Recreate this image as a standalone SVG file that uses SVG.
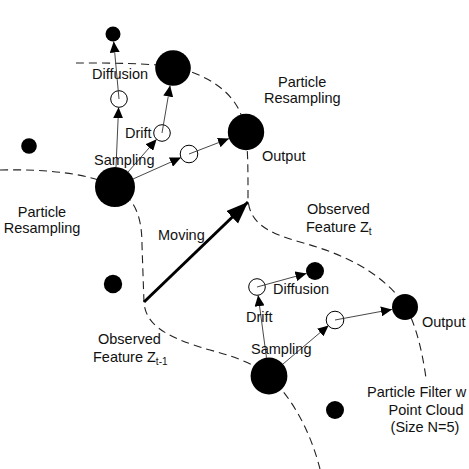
<svg xmlns="http://www.w3.org/2000/svg" width="469" height="469" viewBox="0 0 469 469">
<style>
.bg{fill:#fff}
.dash{fill:none;stroke:#222;stroke-width:1.1;stroke-dasharray:8 5}
.big{fill:#000}
.dot{fill:#000}
.open{fill:#fff;stroke:#000;stroke-width:1}
.arr{fill:none;stroke:#333;stroke-width:0.9;marker-end:url(#ah)}
.move{fill:none;stroke:#000;stroke-width:3;marker-end:url(#bh)}
text{font-family:"Liberation Sans",Arial,sans-serif;font-size:14.5px;fill:#111}
.sub{font-size:10px}
</style>
<defs>
<marker id="ah" markerUnits="userSpaceOnUse" markerWidth="12" markerHeight="10" refX="11" refY="5" orient="auto">
<path d="M0,0 L11,5 L0,10 Z" fill="#000"/>
</marker>
<marker id="bh" markerUnits="userSpaceOnUse" markerWidth="24" markerHeight="18" refX="22" refY="8.5" orient="auto">
<path d="M0,0 L22,8.5 L0,17 Z" fill="#000"/>
</marker>
</defs>
<rect class="bg" x="0" y="0" width="469" height="469"/>

<g id="boundaries">
<path class="dash" d="M76,63 C110,63 150,63 172,67 C205,73 238,92 244,125 C248,145 248,160 248,200 C250,222 265,232 300,242 C340,253 380,270 405,305 C416,325 422,350 426,378"/>
<path class="dash" d="M0,170 C45,169 90,173 115,187 C134,198 142,215 142,245 L144,303 C146,322 160,336 210,350 C240,358 258,366 269,376 C292,398 310,430 320,469"/>
</g>

<g id="n-diff-top"><circle class="dot" cx="113" cy="34" r="7.5"/></g>
<g id="n-resample-top"><circle class="big" cx="173" cy="68" r="17.8"/></g>
<g id="n-open-a"><circle class="open" cx="119" cy="99" r="8.3"/></g>
<g id="n-open-b"><circle class="open" cx="162" cy="133" r="8.3"/></g>
<g id="n-open-d"><circle class="open" cx="189" cy="154" r="8.8"/></g>
<g id="n-sampling-top"><circle class="big" cx="115" cy="187" r="20"/></g>
<g id="n-output-top"><circle class="big" cx="246" cy="132" r="18.2"/></g>
<g id="n-left-dot"><circle class="dot" cx="29" cy="146" r="7.8"/></g>
<g id="n-left-dot2"><circle class="dot" cx="113" cy="284" r="9.2"/></g>
<g id="n-open-e"><circle class="open" cx="257" cy="287" r="8.3"/></g>
<g id="n-diff-bottom"><circle class="dot" cx="315" cy="271" r="9"/></g>
<g id="n-open-g"><circle class="open" cx="335" cy="320" r="8.8"/></g>
<g id="n-output-bottom"><circle class="big" cx="405" cy="307" r="13"/></g>
<g id="n-sampling-bottom"><circle class="big" cx="269" cy="376" r="18.4"/></g>
<g id="n-bottom-dot"><circle class="dot" cx="335" cy="410" r="9"/></g>

<g id="connectors">
<line class="arr" x1="116" y1="167" x2="118.6" y2="107.3"/>
<line class="arr" x1="119" y1="99" x2="113.7" y2="41.5"/>
<line class="arr" x1="128" y1="172" x2="156.6" y2="139.3"/>
<line class="arr" x1="162" y1="133" x2="170.1" y2="85.6"/>
<line class="arr" x1="133" y1="179" x2="181" y2="157.6"/>
<line class="arr" x1="189" y1="154" x2="229" y2="138.6"/>
<line class="arr" x1="266.5" y1="357.8" x2="258.1" y2="295.2"/>
<line class="arr" x1="257" y1="287" x2="306.5" y2="273.4"/>
<line class="arr" x1="283" y1="364" x2="328.6" y2="325.4"/>
<line class="arr" x1="335" y1="320" x2="392" y2="309.4"/>
<line class="move" x1="144" y1="302" x2="248" y2="202"/>
</g>

<g id="labels">
<text x="92" y="79">Diffusion</text>
<text x="125" y="138">Drift</text>
<text x="94" y="165">Sampling</text>
<text x="42" y="217" text-anchor="middle">Particle</text>
<text x="42" y="233" text-anchor="middle">Resampling</text>
<text x="278" y="87">Particle</text>
<text x="264" y="103">Resampling</text>
<text x="262" y="161">Output</text>
<text x="158" y="240">Moving</text>
<text x="307" y="214">Observed</text>
<text x="306" y="232">Feature Z<tspan class="sub" dy="3">t</tspan></text>
<text x="98" y="344">Observed</text>
<text x="93" y="362">Feature Z<tspan class="sub" dy="3">t-1</tspan></text>
<text x="273" y="294">Diffusion</text>
<text x="246" y="322">Drift</text>
<text x="251" y="354">Sampling</text>
<text x="422" y="327">Output</text>
<text x="367" y="397">Particle Filter w</text>
<text x="426" y="415" text-anchor="middle">Point Cloud</text>
<text x="425" y="432" text-anchor="middle">(Size N=5)</text>
</g>
</svg>
